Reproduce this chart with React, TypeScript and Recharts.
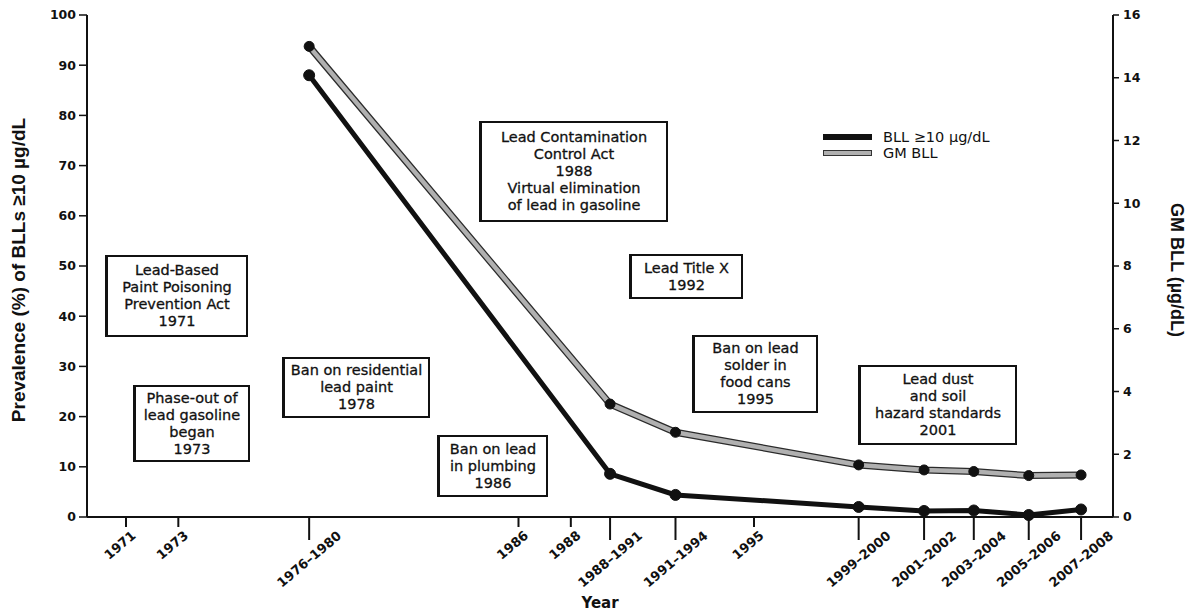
import React from "react";
import { LineChart, Line, XAxis, YAxis, Legend, Label } from "recharts";

// NHANES survey periods and where they sit on the year axis
const PERIODS = ["1976–1980", "1988–1991", "1991–1994", "1999–2000", "2001–2002", "2003–2004", "2005–2006", "2007–2008"];
const PERIOD_YEARS = [1978, 1989.5, 1992, 1999, 2001.5, 2003.4, 2005.5, 2007.5];

// % of children with BLL >= 10 ug/dL (left axis)
const BLL_PREVALENCE = [88.0, 8.6, 4.4, 2.0, 1.2, 1.3, 0.4, 1.5];
// geometric mean BLL, ug/dL (right axis)
const GM_BLL = [15.0, 3.6, 2.7, 1.66, 1.5, 1.45, 1.32, 1.34];

// policy years marked on the axis
const EVENT_YEARS = [1971, 1973, 1986, 1988, 1995];

const LEFT_TICKS = [0, 10, 20, 30, 40, 50, 60, 70, 80, 90, 100];
const RIGHT_TICKS = [0, 2, 4, 6, 8, 10, 12, 14, 16];

const NOTES = [
  ["Lead-Based", "Paint Poisoning", "Prevention Act", "1971"],
  ["Phase-out of", "lead gasoline", "began", "1973"],
  ["Ban on residential", "lead paint", "1978"],
  ["Lead Contamination", "Control Act", "1988", "Virtual elimination", "of lead in gasoline"],
  ["Lead Title X", "1992"],
  ["Ban on lead", "solder in", "food cans", "1995"],
  ["Ban on lead", "in plumbing", "1986"],
  ["Lead dust", "and soil", "hazard standards", "2001"],
];

const rows = PERIODS.map((p, i) => ({ year: PERIOD_YEARS[i], label: p, bll: BLL_PREVALENCE[i], gm: GM_BLL[i] }));
const xTicks = [...EVENT_YEARS, ...PERIOD_YEARS].sort((a, b) => a - b);

// where the annotation boxes go (page px)
const NOTE_BOXES = [
  { left: 105, top: 255, width: 143, height: 82 },
  { left: 133, top: 385, width: 117, height: 77 },
  { left: 282, top: 357, width: 148, height: 61 },
  { left: 479, top: 121, width: 189, height: 101 },
  { left: 629, top: 254, width: 114, height: 45 },
  { left: 692, top: 335, width: 126, height: 78 },
  { left: 437, top: 435, width: 111, height: 62 },
  { left: 858, top: 365, width: 159, height: 80 },
];

const INK = "#111";
const TICK_FONT = { fontFamily: "DejaVu Sans", fontSize: 12.5, fontWeight: 700, fill: INK };
const TITLE_FONT = { fontFamily: "Liberation Sans", fontWeight: 700, fill: INK };

function XTick({ x, y, payload }: any) {
  const v = payload.value;
  const idx = PERIOD_YEARS.indexOf(v);
  const isPeriod = idx >= 0;
  const label = isPeriod ? PERIODS[idx] : String(v);
  const len = isPeriod ? 23 : 10;
  const L = label.length * 8.8;
  const cx = x + (label.length - 9) * 1.2;
  const cy = y + 13 + 0.32 * L + 3.8;
  return (
    <g>
      <line x1={x} y1={y} x2={x} y2={y + len} stroke={INK} strokeWidth={2} />
      <text x={cx} y={cy} textAnchor="middle" dominantBaseline="central"
        transform={`rotate(-40 ${cx} ${cy})`} {...TICK_FONT} fontSize={13}>{label}</text>
    </g>
  );
}

function LegendBox() {
  const row = { display: "flex", alignItems: "center", height: 16 } as const;
  const txt = { fontFamily: "DejaVu Sans", fontSize: 14.5, color: INK, marginLeft: 11, whiteSpace: "nowrap" } as const;
  return (
    <div>
      <div style={row}>
        <div style={{ width: 49, height: 6, background: INK }} />
        <span style={txt}>BLL ≥10 µg/dL</span>
      </div>
      <div style={row}>
        <div style={{ width: 47, height: 4, background: "#b0b0b0", border: "1px solid #333" }} />
        <span style={txt}>GM BLL</span>
      </div>
    </div>
  );
}

export default function App() {
  return (
    <div style={{ position: "absolute", left: 0, top: 0, width: 1192, height: 615, background: "#fff" }}>
      <LineChart width={1192} height={615} data={rows} margin={{ top: 15, right: 0, bottom: 0, left: 0 }}>
        <XAxis dataKey="year" type="number" domain={[1969.51, 2008.72]} ticks={xTicks} interval={0}
          height={98} tickSize={0} tickMargin={0} tickLine={false} tick={<XTick />}
          axisLine={{ stroke: INK, strokeWidth: 2 }}>
          <Label content={({ viewBox }: any) => (
            <text x={viewBox.x + viewBox.width / 2} y={viewBox.y + 86} textAnchor="middle"
              dominantBaseline="central" fontFamily="DejaVu Sans" fontSize={15} fontWeight={700} fill={INK}>Year</text>
          )} />
        </XAxis>
        <YAxis yAxisId="left" domain={[0, 100]} ticks={LEFT_TICKS} interval={0} width={87}
          tickSize={8} tickMargin={3} axisLine={{ stroke: INK, strokeWidth: 2 }}
          tickLine={{ stroke: INK, strokeWidth: 1.5 }} tick={TICK_FONT}>
          <Label content={({ viewBox }: any) => {
            const cx = viewBox.x + 18;
            const cy = viewBox.y + 255;
            return (
              <text x={cx} y={cy} transform={`rotate(-90 ${cx} ${cy})`} textAnchor="middle"
                dominantBaseline="central" {...TITLE_FONT} fontSize={19}>Prevalence (%) of BLLs ≥10 µg/dL</text>
            );
          }} />
        </YAxis>
        <YAxis yAxisId="right" orientation="right" domain={[0, 16]} ticks={RIGHT_TICKS} interval={0} width={79}
          tickSize={6} tickMargin={4} axisLine={{ stroke: INK, strokeWidth: 2 }}
          tickLine={{ stroke: INK, strokeWidth: 1.5 }} tick={TICK_FONT}>
          <Label content={({ viewBox }: any) => {
            const cx = viewBox.x + 64;
            const cy = viewBox.y + 255;
            return (
              <text x={cx} y={cy} transform={`rotate(90 ${cx} ${cy})`} textAnchor="middle"
                dominantBaseline="central" {...TITLE_FONT} fontSize={18}>GM BLL (µg/dL)</text>
            );
          }} />
        </YAxis>
        <Legend content={<LegendBox />} layout="vertical" align="center" verticalAlign="middle"
          wrapperStyle={{ left: 823, top: 129, width: 220, bottom: "auto", right: "auto" }} />
        <Line yAxisId="right" dataKey="gm" type="linear" stroke="#2a2a2a" strokeWidth={7}
          dot={false} activeDot={false} legendType="none" isAnimationActive={false} />
        <Line yAxisId="right" dataKey="gm" type="linear" stroke="#b0b0b0" strokeWidth={4.5}
          dot={{ r: 5, fill: INK, stroke: INK, strokeWidth: 1 }} activeDot={false} isAnimationActive={false} />
        <Line yAxisId="left" dataKey="bll" type="linear" stroke={INK} strokeWidth={5}
          dot={{ r: 5.5, fill: INK, stroke: INK, strokeWidth: 1 }} activeDot={false} isAnimationActive={false} />
      </LineChart>
      {NOTES.map((lines, i) => {
        const b = NOTE_BOXES[i];
        return (
          <div key={i} style={{
            position: "absolute", left: b.left, top: b.top, width: b.width, height: b.height,
            boxSizing: "border-box", border: `2px solid ${INK}`, borderLeftWidth: 3, background: "#fff",
            display: "flex", flexDirection: "column", justifyContent: "center", alignItems: "center",
            fontFamily: "DejaVu Sans", fontSize: 14.5, lineHeight: "17px", color: INK, textAlign: "center",
            whiteSpace: "nowrap", WebkitTextStroke: "0.3px #111",
          }}>
            {lines.map((t, j) => <div key={j}>{t}</div>)}
          </div>
        );
      })}
    </div>
  );
}
